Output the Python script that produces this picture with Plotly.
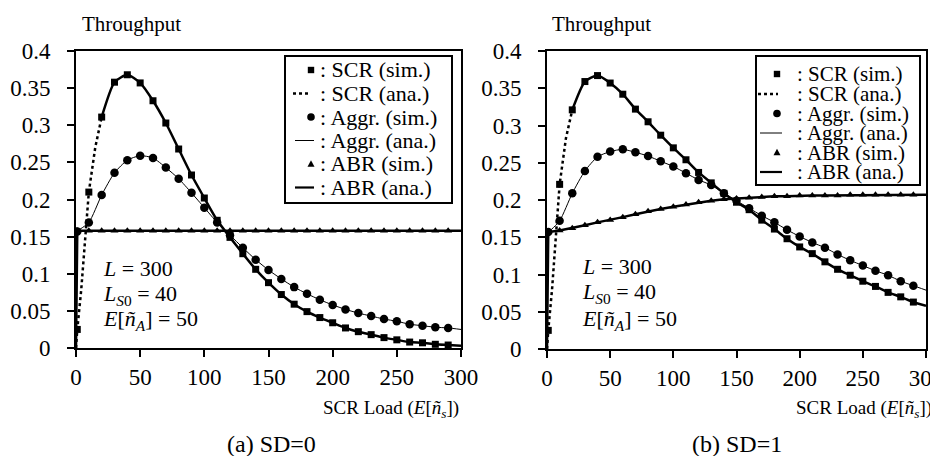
import plotly.graph_objects as go

# ---------------- data ----------------
X_SIM = [1, 10, 20, 30, 40, 50, 60, 70, 80, 90, 100, 110, 120, 130, 140, 150,
         160, 170, 180, 190, 200, 210, 220, 230, 240, 250, 260, 270, 280, 290]
X_ANA = [0, 1, 10, 20, 30, 40, 50, 60, 70, 80, 90, 100, 110, 120, 130, 140, 150,
         160, 170, 180, 190, 200, 210, 220, 230, 240, 250, 260, 270, 280, 290, 300]
X_STEEP = [0, 1, 4, 7, 10, 15, 20]

# (a) SD=0
SCR_SIM_A = [0.025, 0.210, 0.311, 0.358, 0.368, 0.357, 0.333, 0.303, 0.268, 0.233,
             0.202, 0.172, 0.149, 0.127, 0.106, 0.088, 0.072, 0.059, 0.049, 0.041,
             0.034, 0.027, 0.022, 0.018, 0.014, 0.011, 0.008, 0.007, 0.005, 0.004]
AGGR_SIM_A = [0.157, 0.169, 0.206, 0.236, 0.253, 0.259, 0.256, 0.243, 0.228, 0.209,
              0.189, 0.169, 0.152, 0.135, 0.119, 0.105, 0.093, 0.082, 0.073, 0.065,
              0.058, 0.052, 0.047, 0.043, 0.039, 0.036, 0.032, 0.030, 0.028, 0.027]
ABR_SIM_A = [0.158] * 30
SCR_STEEP_A = [0.0, 0.025, 0.077, 0.140, 0.210, 0.270, 0.311]
SCR_ANA_A = [0.0, 0.025, 0.210, 0.311, 0.358, 0.368, 0.357, 0.333, 0.303, 0.268, 0.233,
             0.202, 0.172, 0.149, 0.127, 0.106, 0.088, 0.072, 0.059, 0.049, 0.041,
             0.034, 0.027, 0.022, 0.018, 0.014, 0.011, 0.008, 0.007, 0.005, 0.004, 0.003]
AGGR_ANA_A = [0.158, 0.158, 0.169, 0.206, 0.236, 0.253, 0.259, 0.256, 0.243, 0.228, 0.209,
              0.189, 0.169, 0.152, 0.135, 0.119, 0.105, 0.093, 0.082, 0.073, 0.065,
              0.058, 0.052, 0.047, 0.043, 0.039, 0.036, 0.032, 0.030, 0.028, 0.027, 0.025]
ABR_ANA_A = [0.0] + [0.158] * 31

# (b) SD=1
SCR_SIM_B = [0.025, 0.221, 0.321, 0.359, 0.367, 0.357, 0.342, 0.322, 0.305, 0.287,
             0.270, 0.254, 0.237, 0.223, 0.209, 0.197, 0.187, 0.173, 0.161, 0.148,
             0.137, 0.128, 0.117, 0.107, 0.099, 0.091, 0.084, 0.076, 0.070, 0.063]
AGGR_SIM_B = [0.157, 0.172, 0.209, 0.239, 0.258, 0.265, 0.268, 0.264, 0.259, 0.252,
              0.245, 0.236, 0.227, 0.220, 0.209, 0.199, 0.189, 0.179, 0.170, 0.160,
              0.151, 0.143, 0.136, 0.127, 0.119, 0.112, 0.105, 0.099, 0.091, 0.085]
ABR_SIM_B = [0.157, 0.159, 0.162, 0.166, 0.170, 0.173, 0.177, 0.181, 0.185, 0.188,
             0.191, 0.194, 0.197, 0.199, 0.201, 0.202, 0.203, 0.204, 0.205, 0.205,
             0.206, 0.206, 0.206, 0.206, 0.207, 0.207, 0.207, 0.207, 0.207, 0.207]
SCR_STEEP_B = [0.0, 0.025, 0.080, 0.145, 0.221, 0.283, 0.321]
SCR_ANA_B = [0.0, 0.025, 0.221, 0.321, 0.359, 0.367, 0.357, 0.342, 0.322, 0.305, 0.287,
             0.270, 0.254, 0.237, 0.223, 0.209, 0.197, 0.187, 0.173, 0.161, 0.148,
             0.137, 0.128, 0.117, 0.107, 0.099, 0.091, 0.084, 0.076, 0.070, 0.063, 0.058]
AGGR_ANA_B = [0.157, 0.157, 0.172, 0.209, 0.239, 0.258, 0.265, 0.268, 0.264, 0.259, 0.252,
              0.245, 0.236, 0.227, 0.220, 0.209, 0.199, 0.189, 0.179, 0.170, 0.160,
              0.151, 0.143, 0.136, 0.127, 0.119, 0.112, 0.105, 0.099, 0.091, 0.085, 0.079]
ABR_ANA_B = [0.0, 0.157, 0.159, 0.162, 0.166, 0.170, 0.173, 0.177, 0.181, 0.185, 0.188,
             0.191, 0.194, 0.197, 0.199, 0.201, 0.202, 0.203, 0.204, 0.205, 0.205,
             0.206, 0.206, 0.206, 0.206, 0.207, 0.207, 0.207, 0.207, 0.207, 0.207, 0.207]

X_TICKS = [0, 50, 100, 150, 200, 250, 300]
Y_TICKS = [0, 0.05, 0.1, 0.15, 0.2, 0.25, 0.3, 0.35, 0.4]
Y_TICKTEXT = ["0", "0.05", "0.1", "0.15", "0.2", "0.25", "0.3", "0.35", "0.4"]

LEGEND_LABELS = [": SCR (sim.)", ": SCR (ana.)", ": Aggr. (sim.)",
                 ": Aggr. (ana.)", ": ABR (sim.)", ": ABR (ana.)"]
PARAM_LINES = ["<i>L</i> = 300",
               "<i>L</i><sub><i>S</i>0</sub> = 40",
               "<i>E</i>[<i>ñ</i><sub><i>A</i></sub>] = 50"]
Y_TITLE = "Throughput"
X_TITLE = "SCR Load (<i>E</i>[<i>ñ</i><sub><i>s</i></sub>])"
CAPTIONS = ["(a) SD=0", "(b) SD=1"]

# ---------------- layout helpers ----------------
W, H = 938, 456
FONT = "Times New Roman, Liberation Serif, DejaVu Serif, serif"


def px(x):
    return x / W


def py(y):
    return 1 - y / H


panels = [
    dict(x0=68, x1=453, y0=43, y1=340, suffix="",
         scr=SCR_SIM_A, aggr=AGGR_SIM_A, abr=ABR_SIM_A,
         steep=SCR_STEEP_A, scr_ana=SCR_ANA_A, aggr_ana=AGGR_ANA_A, abr_ana=ABR_ANA_A,
         leg=dict(bx0=277, bx1=444, by0=48, by1=195, sym=303, l0=287, l1=306, lab=310,
                  rows=[62, 85.5, 109, 132.5, 156, 179.5], fs=22),
         par_x=93, par_rows=[260, 287, 312], title_x=72, xt_right=453, cap_x=263),
    dict(x0=539, x1=918, y0=43, y1=341, suffix="2",
         scr=SCR_SIM_B, aggr=AGGR_SIM_B, abr=ABR_SIM_B,
         steep=SCR_STEEP_B, scr_ana=SCR_ANA_B, aggr_ana=AGGR_ANA_B, abr_ana=ABR_ANA_B,
         leg=dict(bx0=748, bx1=912, by0=48, by1=177, sym=769, l0=752, l1=774, lab=787,
                  rows=[66, 86, 105.5, 125, 144.5, 164], fs=21),
         par_x=572, par_rows=[258, 285, 312], title_x=542, xt_right=926, cap_x=729),
]

fig = go.Figure()
shapes = []
annotations = []
axis_common = dict(showline=True, linecolor="black", linewidth=2, mirror=True,
                   ticks="outside", ticklen=7, tickwidth=1.5, tickcolor="black",
                   showgrid=False, zeroline=False, automargin=False,
                   tickfont=dict(family=FONT, size=23, color="black"))

for i, p in enumerate(panels):
    xa = "x" + p["suffix"]
    ya = "y" + p["suffix"]
    # analytic lines
    fig.add_trace(go.Scatter(x=X_STEEP, y=p["steep"], xaxis=xa, yaxis=ya, mode="lines",
                             line=dict(color="black", width=2.5, dash="dot"),
                             showlegend=False))
    fig.add_trace(go.Scatter(x=X_ANA[3:], y=p["scr_ana"][3:], xaxis=xa, yaxis=ya, mode="lines",
                             line=dict(color="black", width=2.5, shape="spline", smoothing=0.6),
                             showlegend=False))
    fig.add_trace(go.Scatter(x=X_ANA, y=p["aggr_ana"], xaxis=xa, yaxis=ya, mode="lines",
                             line=dict(color="black", width=1, shape="spline", smoothing=0.6),
                             showlegend=False))
    fig.add_trace(go.Scatter(x=X_ANA, y=p["abr_ana"], xaxis=xa, yaxis=ya, mode="lines",
                             line=dict(color="black", width=2.5),
                             showlegend=False))
    # simulation markers
    fig.add_trace(go.Scatter(x=X_SIM, y=p["scr"], xaxis=xa, yaxis=ya, mode="markers",
                             marker=dict(symbol="square", size=7, color="black"),
                             showlegend=False))
    fig.add_trace(go.Scatter(x=X_SIM, y=p["aggr"], xaxis=xa, yaxis=ya, mode="markers",
                             marker=dict(symbol="circle", size=8.5, color="black"),
                             showlegend=False))
    fig.add_trace(go.Scatter(x=X_SIM, y=p["abr"], xaxis=xa, yaxis=ya, mode="markers",
                             marker=dict(symbol="triangle-up", size=7, color="black"),
                             showlegend=False))

    fig.update_layout(**{
        "xaxis" + p["suffix"]: dict(axis_common, domain=[px(p["x0"]), px(p["x1"])],
                                    range=[0, 300], tickvals=X_TICKS,
                                    ticklabelstandoff=0, anchor=ya),
        "yaxis" + p["suffix"]: dict(axis_common, domain=[py(p["y1"]), py(p["y0"])],
                                    range=[0, 0.4], tickvals=Y_TICKS, ticktext=Y_TICKTEXT,
                                    ticklabelstandoff=12, anchor=xa),
    })

    # legend box
    lg = p["leg"]
    shapes.append(dict(type="rect", xref="paper", yref="paper",
                       x0=px(lg["bx0"]), x1=px(lg["bx1"]), y0=py(lg["by1"]), y1=py(lg["by0"]),
                       line=dict(color="black", width=2), fillcolor="white", layer="above"))
    rows = lg["rows"]
    c = lg["sym"]
    # sample symbols
    r = 3.2
    shapes.append(dict(type="rect", xref="paper", yref="paper", layer="above",
                       x0=px(c - r), x1=px(c + r), y0=py(rows[0] + r), y1=py(rows[0] - r),
                       fillcolor="black", line=dict(width=0)))
    shapes.append(dict(type="line", xref="paper", yref="paper", layer="above",
                       x0=px(lg["l0"] - 2), x1=px(lg["l1"] - 4), y0=py(rows[1]), y1=py(rows[1]),
                       line=dict(color="black", width=2.5, dash="dot")))
    r = 3.8
    shapes.append(dict(type="circle", xref="paper", yref="paper", layer="above",
                       x0=px(c - r), x1=px(c + r), y0=py(rows[2] + r), y1=py(rows[2] - r),
                       fillcolor="black", line=dict(width=0)))
    shapes.append(dict(type="line", xref="paper", yref="paper", layer="above",
                       x0=px(lg["l0"]), x1=px(lg["l1"]), y0=py(rows[3]), y1=py(rows[3]),
                       line=dict(color="black", width=1)))
    t = 3.5
    shapes.append(dict(type="path", xref="paper", yref="paper", layer="above",
                       path="M {} {} L {} {} L {} {} Z".format(
                           px(c - t), py(rows[4] + t * 0.8), px(c + t), py(rows[4] + t * 0.8),
                           px(c), py(rows[4] - t * 1.1)),
                       fillcolor="black", line=dict(width=0)))
    shapes.append(dict(type="line", xref="paper", yref="paper", layer="above",
                       x0=px(lg["l0"]), x1=px(lg["l1"]), y0=py(rows[5]), y1=py(rows[5]),
                       line=dict(color="black", width=2.2)))
    for lab, ry in zip(LEGEND_LABELS, rows):
        annotations.append(dict(text=lab, xref="paper", yref="paper",
                                x=px(lg["lab"]), y=py(ry), xanchor="left", yanchor="middle",
                                showarrow=False,
                                font=dict(family=FONT, size=lg["fs"], color="black")))

    # parameter text
    for line, ry in zip(PARAM_LINES, p["par_rows"]):
        annotations.append(dict(text=line, xref="paper", yref="paper",
                                x=px(p["par_x"]), y=py(ry), xanchor="left", yanchor="middle",
                                showarrow=False,
                                font=dict(family=FONT, size=22, color="black")))
    # axis titles and caption
    annotations.append(dict(text=Y_TITLE, xref="paper", yref="paper",
                            x=px(p["title_x"]), y=py(16), xanchor="left", yanchor="middle",
                            showarrow=False, font=dict(family=FONT, size=21, color="black")))
    annotations.append(dict(text=X_TITLE, xref="paper", yref="paper",
                            x=px(p["xt_right"]), y=py(401), xanchor="right", yanchor="middle",
                            showarrow=False, font=dict(family=FONT, size=19, color="black")))
    annotations.append(dict(text=CAPTIONS[i], xref="paper", yref="paper",
                            x=px(p["cap_x"]), y=py(436), xanchor="center", yanchor="middle",
                            showarrow=False, font=dict(family=FONT, size=24, color="black")))

fig.update_layout(width=W, height=H, margin=dict(l=0, r=0, t=0, b=0),
                  paper_bgcolor="white", plot_bgcolor="white",
                  font=dict(family=FONT),
                  shapes=shapes, annotations=annotations, showlegend=False)

fig.write_html("out.html")
